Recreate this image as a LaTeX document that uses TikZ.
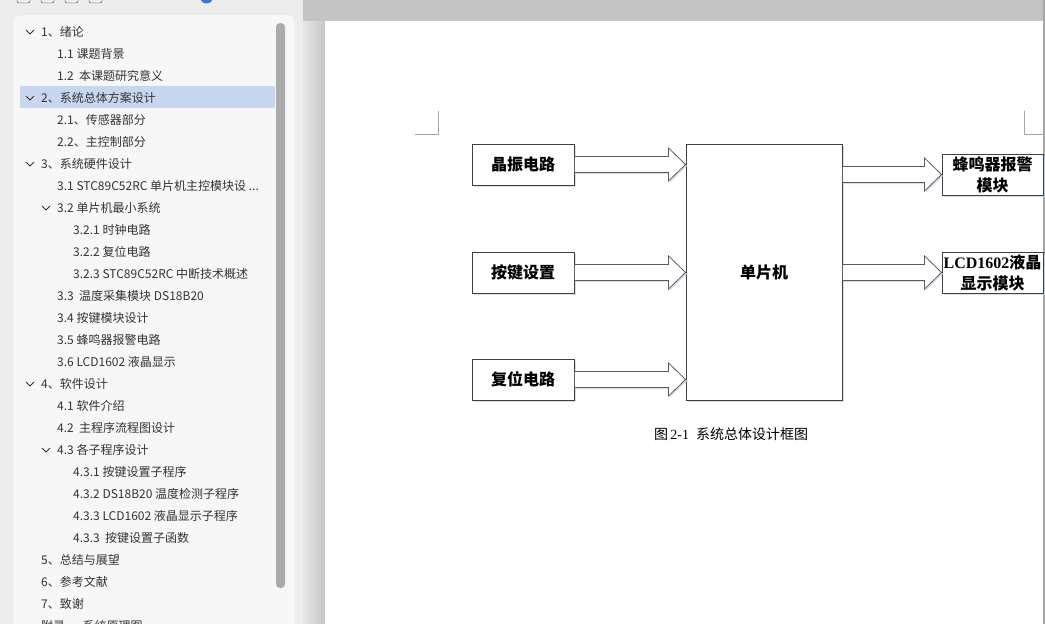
\documentclass[tikz,border=0pt]{standalone}
\usepackage{fontspec}
\setmainfont{Liberation Serif}
\newfontfamily\cjk{Noto Sans CJK SC}
\usetikzlibrary{calc,shadows}

\definecolor{paneback}{HTML}{EDEDED}
\definecolor{panefill}{HTML}{F7F7F7}
\definecolor{paneline}{HTML}{E2E2E2}
\definecolor{navtext}{HTML}{333333}
\definecolor{navsel}{HTML}{C7D7F1}
\definecolor{scrollgrey}{HTML}{ABABAB}
\definecolor{deskgrey}{HTML}{C4C4C4}
\definecolor{boxline}{HTML}{3F3F3F}
\definecolor{shade}{HTML}{CDD8E8}
\definecolor{toggleblue}{HTML}{2F7AE5}

\tikzset{
  navitem/.style={anchor=west, inner sep=0pt, text=navtext, font=\cjk\fontsize{12}{14}\selectfont},
  chev/.style={draw=navtext, line width=0.8pt},
  cornermark/.style={draw=black!35, line width=0.8pt},
  softshadow/.style={drop shadow={shadow xshift=1.5pt, shadow yshift=-1.5pt, fill=shade, opacity=.8}},
  blockbox/.style={draw=boxline, fill=white, line width=0.9pt, inner sep=0pt, align=center,
    font=\cjk\bfseries\fontsize{16}{21}\selectfont, softshadow},
  fat/.style={draw=boxline!85, fill=white, line width=0.8pt, line join=miter, softshadow},
}

% hollow block arrow between two points at the height of the first one
\newcommand\fatarrow[2]{%
  \draw[fat] let \p1=#1, \p2=#2 in
    (\x1,\y1+8pt) -- (\x2-17pt,\y1+8pt) -- (\x2-17pt,\y1+16.5pt) -- (\x2,\y1)
    -- (\x2-17pt,\y1-16.5pt) -- (\x2-17pt,\y1-8pt) -- (\x1,\y1-8pt) -- cycle;}

\begin{document}
\begin{tikzpicture}[x=1pt,y=-1pt]
  \useasboundingbox (0,0) rectangle (1045,624);
  \clip (0,0) rectangle (1045,624);

  % navigation pane
  \fill[paneback] (0,0) rectangle (305,624);
  \filldraw[fill=panefill, draw=paneline, rounded corners=5pt] (13,15) rectangle (295,660);
  \foreach \xx in {17,41,65,89}
    \draw[navtext, rounded corners=2pt] (\xx,-12) rectangle ++(13,15);
  \fill[toggleblue] (206.5,-3) circle (6.5pt);
  \fill[navsel] (20,86) rectangle (275,108);
  \fill[scrollgrey, rounded corners=4pt] (276,23) rectangle (285,588);

  \foreach \lx/\txt [count=\i] in {
      41/{1、绪论}, 57/{1.1 课题背景}, 57/{1.2~~本课题研究意义},
      41/{2、系统总体方案设计}, 57/{2.1、传感器部分}, 57/{2.2、主控制部分},
      41/{3、系统硬件设计}, 57/{3.1 STC89C52RC 单片机主控模块设 ...}, 57/{3.2 单片机最小系统},
      73/{3.2.1 时钟电路}, 73/{3.2.2 复位电路}, 73/{3.2.3 STC89C52RC 中断技术概述},
      57/{3.3~~温度采集模块 DS18B20}, 57/{3.4 按键模块设计}, 57/{3.5 蜂鸣器报警电路},
      57/{3.6 LCD1602 液晶显示}, 41/{4、软件设计}, 57/{4.1 软件介绍},
      57/{4.2~~主程序流程图设计}, 57/{4.3 各子程序设计}, 73/{4.3.1 按键设置子程序},
      73/{4.3.2 DS18B20 温度检测子程序}, 73/{4.3.3 LCD1602 液晶显示子程序}, 73/{4.3.3~~按键设置子函数},
      41/{5、总结与展望}, 41/{6、参考文献}, 41/{7、致谢}, 41/{附录一~~系统原理图}}
    \node[navitem] (nav\i) at (\lx,10+22*\i) {\txt};
  \foreach \i in {1,4,7,9,17,20}
    \draw[chev] ($(nav\i.west)+(-15,-2)$) -- ++(4,4) -- ++(4,-4);

  % document page
  \fill[deskgrey] (303,0) rectangle (1045,21);
  \shade[left color=black!10, right color=black!22] (303,21) rectangle (325,624);
  \fill[white] (325,21) rectangle (1043,624);
  \fill[black!35] (1043,0) rectangle (1045,624);
  \draw[cornermark] (438,111) -- (438,134) -- (415,134);
  \draw[cornermark] (1024,111) -- (1024,134) -- (1045,134);

  % block diagram
  \node[blockbox, minimum width=102pt, minimum height=41pt] (osc) at (523,164.5) {晶振电路};
  \node[blockbox, minimum width=102pt, minimum height=41pt] (key) at (523,272.5) {按键设置};
  \node[blockbox, minimum width=102pt, minimum height=41pt] (rst) at (523,379.5) {复位电路};
  \node[blockbox, minimum width=156pt, minimum height=256pt] (mcu) at (764,272) {单片机};
  \node[blockbox, minimum width=101pt, minimum height=41pt] (buzz) at (992.5,174.5) {蜂鸣器报警\\模块};
  \node[blockbox, minimum width=101pt, minimum height=41pt] (lcd) at (992.5,272.5)
    {{\rmfamily\bfseries LCD1602}液晶\\显示模块};

  \fatarrow{(osc.east)}{(mcu.west)}
  \fatarrow{(key.east)}{(mcu.west)}
  \fatarrow{(rst.east)}{(mcu.west)}
  \fatarrow{(mcu.east |- buzz.west)}{(buzz.west)}
  \fatarrow{(mcu.east |- lcd.west)}{(lcd.west)}

  \node[font=\fontsize{14}{16}\selectfont] (cap) at (731,434) {{\cjk 图}\,2-1\ \ {\cjk 系统总体设计框图}};
\end{tikzpicture}
\end{document}
